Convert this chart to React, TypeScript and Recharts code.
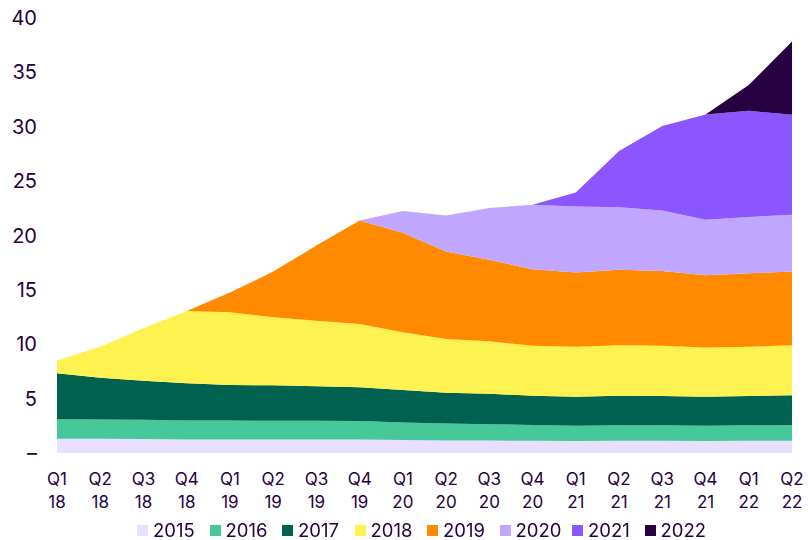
import { Area, AreaChart, Legend, XAxis, YAxis } from 'recharts'

const TEXT = '#270042'
const FONT = 'Inter, "Noto Sans", sans-serif'

const quarters = ['Q1', 'Q2', 'Q3', 'Q4', 'Q1', 'Q2', 'Q3', 'Q4', 'Q1', 'Q2', 'Q3', 'Q4', 'Q1', 'Q2', 'Q3', 'Q4', 'Q1', 'Q2']
const years = ['18', '18', '18', '18', '19', '19', '19', '19', '20', '20', '20', '20', '21', '21', '21', '21', '22', '22']

const cohorts = ['2015', '2016', '2017', '2018', '2019', '2020', '2021', '2022']
const colors = ['#E8DEFF', '#46C89A', '#00614F', '#FDF24F', '#FF8A00', '#C0A6FF', '#8B55FF', '#270042']

const c2015 = [1.3, 1.3, 1.28, 1.25, 1.25, 1.25, 1.25, 1.25, 1.2, 1.15, 1.15, 1.12, 1.1, 1.12, 1.12, 1.1, 1.12, 1.13]
const c2016 = [1.8, 1.78, 1.77, 1.75, 1.73, 1.72, 1.71, 1.69, 1.6, 1.57, 1.5, 1.46, 1.4, 1.43, 1.43, 1.4, 1.43, 1.45]
const c2017 = [4.23, 3.85, 3.6, 3.41, 3.28, 3.25, 3.17, 3.1, 3.0, 2.83, 2.8, 2.69, 2.68, 2.72, 2.69, 2.68, 2.69, 2.72]
const c2018 = [1.17, 2.85, 4.82, 6.65, 6.68, 6.26, 6.04, 5.83, 5.3, 4.94, 4.82, 4.6, 4.6, 4.63, 4.63, 4.51, 4.54, 4.6]
const c2019 = [0, 0, 0, 0, 1.81, 4.2, 6.9, 9.5, 9.15, 8.03, 7.49, 7.03, 6.81, 6.94, 6.87, 6.66, 6.75, 6.78]
const c2020 = [0, 0, 0, 0, 0, 0, 0, 0, 2.01, 3.31, 4.78, 5.92, 6.07, 5.76, 5.56, 5.09, 5.18, 5.22]
const c2021 = [0, 0, 0, 0, 0, 0, 0, 0, 0, 0, 0, 0, 1.29, 5.18, 7.78, 9.68, 9.75, 9.2]
const c2022 = [0, 0, 0, 0, 0, 0, 0, 0, 0, 0, 0, 0, 0, 0, 0, 0, 2.37, 6.74]

const yTicks = [0, 5, 10, 15, 20, 25, 30, 35, 40]

const series = [c2015, c2016, c2017, c2018, c2019, c2020, c2021, c2022]

const data = quarters.map((q, i) => {
  const row: Record<string, string | number> = { label: `${q} ${years[i]}` }
  cohorts.forEach((c, k) => {
    row[c] = series[k][i]
  })
  return row
})

function QuarterTick(props: any) {
  const { x, y, payload } = props
  const i = payload.index
  return (
    <g>
      <text x={x} y={y + 26} textAnchor="middle" dominantBaseline="central" fontSize={17} fill={TEXT} fontFamily={FONT}>
        {quarters[i]}
      </text>
      <text x={x} y={y + 49} textAnchor="middle" dominantBaseline="central" fontSize={17} fill={TEXT} fontFamily={FONT}>
        {years[i]}
      </text>
    </g>
  )
}

function CohortLegend() {
  return (
    <div style={{ display: 'flex', height: 14, alignItems: 'center', paddingLeft: 137 }}>
      {cohorts.map((c, k) => (
        <div key={c} style={{ display: 'flex', alignItems: 'center', width: 72.5, flex: '0 0 72.5px' }}>
          <span style={{ width: 11, height: 11, background: colors[k], display: 'inline-block', marginRight: 5 }} />
          <span style={{ fontSize: 18.5, lineHeight: 1, color: TEXT, fontFamily: FONT, whiteSpace: 'nowrap' }}>{c}</span>
        </div>
      ))}
    </div>
  )
}

export default function App() {
  return (
    <div style={{ position: 'fixed', top: 0, left: 0, width: 808, height: 540, background: '#fff' }}>
      <AreaChart width={808} height={540} data={data} margin={{ top: 18, right: 16, left: 0, bottom: 0 }}>
        <XAxis
          dataKey="label"
          interval={0}
          tickLine={false}
          axisLine={false}
          tickSize={0}
          tickMargin={0}
          height={73}
          tick={<QuarterTick />}
        />
        <YAxis
          domain={[0, 40]}
          ticks={yTicks}
          interval={0}
          tickLine={false}
          axisLine={false}
          tickSize={0}
          tickMargin={20}
          width={57}
          tick={{ fontSize: 20, fill: TEXT, fontFamily: FONT }}
          tickFormatter={(v) => (v === 0 ? '–' : String(v))}
        />
        <Legend verticalAlign="bottom" height={14} wrapperStyle={{ bottom: 3, left: 0, width: 808 }} content={<CohortLegend />} />
        {cohorts.map((c, k) => (
          <Area
            key={c}
            type="linear"
            dataKey={c}
            stackId="1"
            stroke="none"
            fill={colors[k]}
            fillOpacity={1}
            isAnimationActive={false}
          />
        ))}
      </AreaChart>
    </div>
  )
}
